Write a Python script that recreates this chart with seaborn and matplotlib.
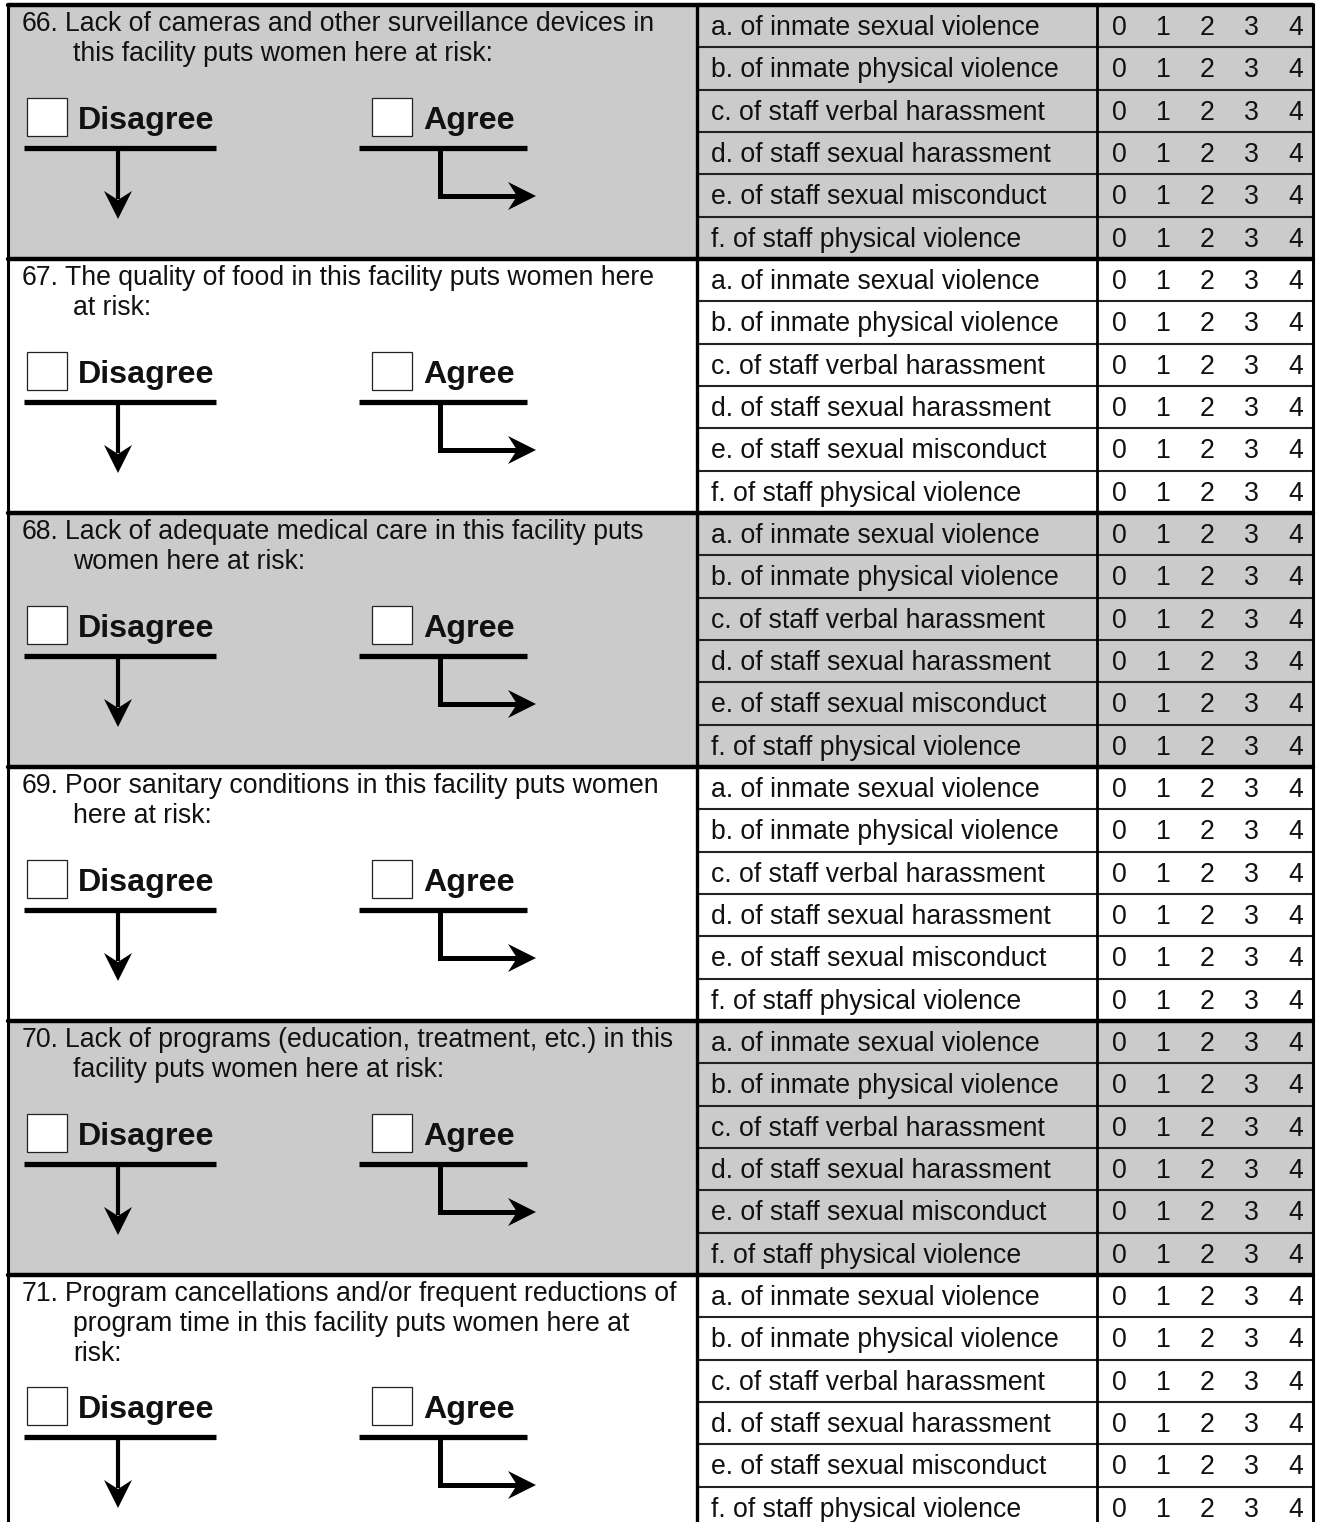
import matplotlib
matplotlib.use("Agg")
import matplotlib.pyplot as plt
import seaborn as sns

sns.set_theme(style="white")
plt.rcParams['font.family'] = ['Liberation Sans', 'DejaVu Sans']

# survey content
question_nums = ["66.", "67.", "68.", "69.", "70.", "71."]
question_lines = [
    ["Lack of cameras and other surveillance devices in", "this facility puts women here at risk:"],
    ["The quality of food in this facility puts women here", "at risk:"],
    ["Lack of adequate medical care in this facility puts", "women here at risk:"],
    ["Poor sanitary conditions in this facility puts women", "here at risk:"],
    ["Lack of programs (education, treatment, etc.) in this", "facility puts women here at risk:"],
    ["Program cancellations and/or frequent reductions of", "program time in this facility puts women here at", "risk:"],
]
items = ["a. of inmate sexual violence", "b. of inmate physical violence",
         "c. of staff verbal harassment", "d. of staff sexual harassment",
         "e. of staff sexual misconduct", "f. of staff physical violence"]
scale = ["0", "1", "2", "3", "4"]
shaded = [True, False, True, False, True, False]

W, H = 1322, 1522
fig = plt.figure(figsize=(W / 100, H / 100), dpi=100)
ax = fig.add_axes([0, 0, 1, 1])
ax.set_xlim(0, W)
ax.set_ylim(H, 0)
ax.axis('off')

grey = "#cbcbcb"
ink = "#111111"
top0, sec_h, row_h = 5, 254, 42.3
x_left, x_mid, x_num, x_right = 8, 697, 1097, 1313
num_x = [1119, 1163, 1207, 1251, 1296]
fs = 19.2


def down_head(x, tip):
    ax.fill([x, x - 14, x, x + 14], [tip, tip - 28, tip - 19, tip - 28],
            color='black', lw=0, zorder=4)


def right_head(tip, y):
    ax.fill([tip, tip - 28, tip - 19, tip - 28], [y, y - 14, y, y + 14],
            color='black', lw=0, zorder=4)


for i, (num, lines) in enumerate(zip(question_nums, question_lines)):
    top = top0 + i * sec_h
    if shaded[i]:
        ax.add_patch(plt.Rectangle((x_left, top), x_right - x_left, sec_h,
                                   facecolor=grey, edgecolor='none', zorder=0))
    # question text
    ax.text(22, top + 19, num, fontsize=fs, va='center', ha='left', color=ink)
    for j, ln in enumerate(lines):
        ax.text(65 if j == 0 else 73, top + 19 + j * 30, ln, fontsize=fs,
                va='center', ha='left', color=ink)
    oy = top + 112 + 19 * (len(lines) - 2)
    # checkboxes + labels
    for bx, label in [(27, "Disagree"), (372, "Agree")]:
        ax.add_patch(plt.Rectangle((bx, oy - 19), 40, 38, facecolor='white',
                                   edgecolor='#222', lw=0.9, zorder=3))
        ax.text(bx + 51, oy + 4, label, fontsize=23.2, fontweight='bold',
                va='center', ha='left', color=ink, zorder=3)
    ly = oy + 31
    ax.plot([24, 216], [ly, ly], color='black', lw=3.8, solid_capstyle='butt')
    ax.plot([359, 527], [ly, ly], color='black', lw=3.8, solid_capstyle='butt')
    # disagree arrow down
    tip = ly + 71
    ax.plot([118, 118], [ly, tip - 20], color='black', lw=3.0, solid_capstyle='butt')
    down_head(118, tip)
    # agree elbow arrow
    ey = ly + 48
    ax.plot([440, 440, 518], [ly, ey, ey], color='black', lw=3.6,
            solid_capstyle='butt', solid_joinstyle='miter')
    right_head(536, ey)
    # item rows
    for r, it in enumerate(items):
        yc = top + row_h * (r + 0.5)
        ax.text(711, yc + 2, it, fontsize=fs, va='center', ha='left', color=ink)
        for nx, s in zip(num_x, scale):
            ax.text(nx, yc + 2, s, fontsize=fs, va='center', ha='center', color=ink)
        if r > 0:
            ax.plot([x_mid, x_right], [top + row_h * r] * 2, color='#222', lw=1.5)
    # section separator
    ax.plot([x_left, x_right], [top, top], color='black', lw=3.2)

# vertical rules
ax.plot([x_left, x_left], [top0, H], color='black', lw=2.2)
ax.plot([x_mid, x_mid], [top0, H], color='black', lw=2.4)
ax.plot([x_num, x_num], [top0, H], color='black', lw=2.0)
ax.plot([x_right, x_right], [top0, H], color='black', lw=2.2)

fig.savefig("out.png", dpi=100)
